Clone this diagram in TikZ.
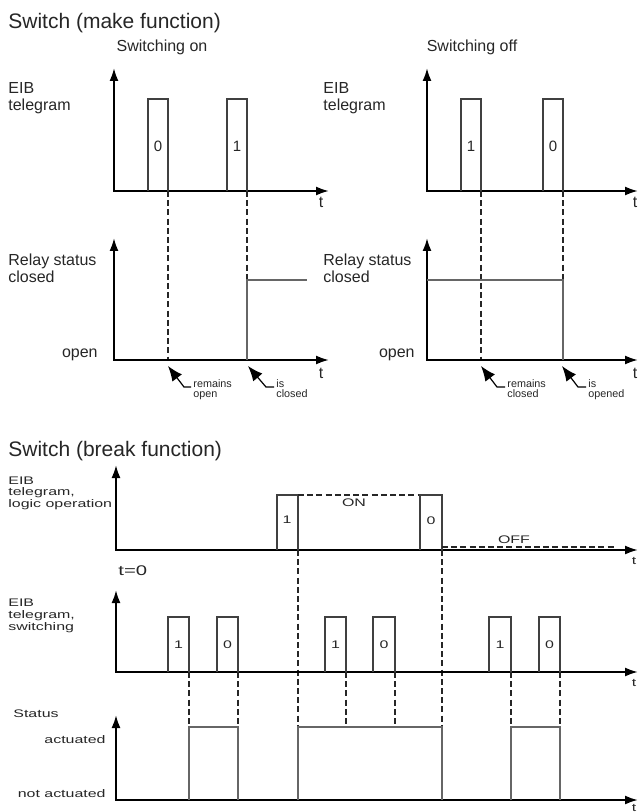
\documentclass[tikz,border=0pt]{standalone}
\usepackage{fontspec}
\setmainfont{Liberation Sans}
\newfontfamily\widefont[FakeStretch=1.45]{Liberation Sans}
\usetikzlibrary{arrows.meta,positioning}

\begin{document}
\begin{tikzpicture}[x=0.5pt,y=-0.5pt,
  taxis/.style={line width=1pt,{Latex[length=6.5pt,width=4.5pt]}-{Latex[length=6.5pt,width=4.5pt]}},
  pulse/.style={draw=black!75,line width=0.7pt},
  relay/.style={draw=black!60,line width=0.8pt},
  guide/.style={draw=black!85,line width=0.55pt,dash pattern=on 3pt off 1.6pt},
  pointer/.style={line width=0.6pt,{Latex[length=7.5pt,width=6pt]}-},
  every node/.style={inner sep=0pt,text=black!85},
  ttl/.style={font=\fontsize{10.5}{12}\selectfont,anchor=base west},
  lbl/.style={font=\fontsize{8}{8.5}\selectfont,align=left,anchor=base west},
  num/.style={font=\fontsize{7.5}{8}\selectfont,anchor=base},
  tiny/.style={font=\fontsize{5.4}{5}\selectfont,align=left,anchor=base west},
  wide/.style={font=\widefont\fontsize{5.5}{5.6}\selectfont,align=left,anchor=base west}]
\useasboundingbox (0,0) rectangle (639,812);

% make function, switching on
\node (ttlA) at (8,29) [ttl] {Switch (make function)};
\node (onA) at (162,52) [lbl,anchor=base] {Switching on};
\node (eibA) at (8,111) [lbl] {EIB\\telegram};
\draw [taxis] (114,68) -- (114,191) -- (329,191);
\node (tA) at (321,208) [lbl,anchor=base] {t};
\draw [pulse] (148,191) |- (168,99) -- (168,191);
\draw [pulse] (227,191) |- (247,99) -- (247,191);
\node (pA1) at (158,152) [num] {0};
\node (pA2) at (237,152) [num] {1};
\draw [guide] (168,191) -- (168,360);
\draw [guide] (247,191) -- (247,280);

\node (relA) at (8,283) [lbl] {Relay status\\closed};
\node (openA) at (98,357) [lbl,anchor=base east] {open};
\draw [taxis] (114,238) -- (114,360) -- (329,360);
\node (tB) at (321,378) [lbl,anchor=base] {t};
\draw [relay] (247,360) -- (247,280) -- (307,280);
\draw [pointer] (168,366) -- (184,387) -- (191,387);
\node (remA) at (193,397) [tiny] {remains\\open};
\draw [pointer] (248,366) -- (266,387) -- (274,387);
\node (isA) at (276,397) [tiny] {is\\closed};

% make function, switching off
\node (offA) at (472,52) [lbl,anchor=base] {Switching off};
\node (eibB) at (323,111) [lbl] {EIB\\telegram};
\draw [taxis] (427,68) -- (427,191) -- (638,191);
\node (tC) at (635,208) [lbl,anchor=base] {t};
\draw [pulse] (461,191) |- (481,99) -- (481,191);
\draw [pulse] (543,191) |- (563,99) -- (563,191);
\node (pB1) at (471,152) [num] {1};
\node (pB2) at (553,152) [num] {0};
\draw [guide] (481,191) -- (481,360);
\draw [guide] (563,191) -- (563,280);

\node (relB) at (323,283) [lbl] {Relay status\\closed};
\node (openB) at (415,357) [lbl,anchor=base east] {open};
\draw [taxis] (427,238) -- (427,360) -- (638,360);
\node (tD) at (635,378) [lbl,anchor=base] {t};
\draw [relay] (427,280) -- (563,280) -- (563,360);
\draw [pointer] (481,366) -- (497,387) -- (505,387);
\node (remB) at (507,397) [tiny] {remains\\closed};
\draw [pointer] (562,366) -- (578,387) -- (586,387);
\node (isB) at (588,397) [tiny] {is\\opened};

% break function
\node (ttlB) at (8,456) [ttl] {Switch (break function)};
\node (eibC) at (8,507) [wide] {EIB\\telegram,\\logic operation};
\draw [taxis] (116,465) -- (116,550) -- (638,550);
\node (tE) at (634,564) [wide,anchor=base] {t};
\node (tzero) at (118,575) [wide,font=\widefont\fontsize{7}{7}\selectfont] {t=0};
\draw [pulse] (277,550) |- (298,495) -- (298,550);
\draw [guide] (298,495) -- (420,495);
\draw [pulse] (420,550) |- (442,495) -- (442,550);
\node (lg1) at (287,523) [wide,anchor=base] {1};
\node (lg0) at (431,524) [wide,anchor=base] {0};
\node (onB) at (354,506) [wide,anchor=base] {ON};
\draw [guide] (442,547) -- (615,547);
\node (offB) at (514,543) [wide,anchor=base] {OFF};
\draw [guide] (298,550) -- (298,727);
\draw [guide] (442,550) -- (442,727);

\node (eibD) at (8,630) [wide,font=\widefont\fontsize{5.5}{6}\selectfont] {EIB\\telegram,\\switching};
\draw [taxis] (116,590) -- (116,672) -- (638,672);
\node (tF) at (634,686) [wide,anchor=base] {t};
\foreach \xa/\xb/\v in {168/189/1,217/238/0,325/346/1,373/395/0,489/511/1,539/560/0} {
  \draw [pulse] (\xa,672) |- (\xb,617) -- (\xb,672);
  \node (sw\xa) at ({(\xa+\xb)/2},648) [wide,anchor=base] {\v};
  \draw [guide] (\xb,672) -- (\xb,727);
}

\node (stat) at (13,717) [wide] {Status};
\node (act) at (106,743) [wide,anchor=base east] {actuated};
\node (nact) at (106,797) [wide,anchor=base east] {not actuated};
\draw [taxis] (116,715) -- (116,800) -- (638,800);
\node (tG) at (634,811) [wide,anchor=base] {t};
\draw [relay] (189,800) |- (238,727) -- (238,800);
\draw [relay] (298,800) |- (442,727) -- (442,800);
\draw [relay] (511,800) |- (560,727) -- (560,800);
\end{tikzpicture}
\end{document}
